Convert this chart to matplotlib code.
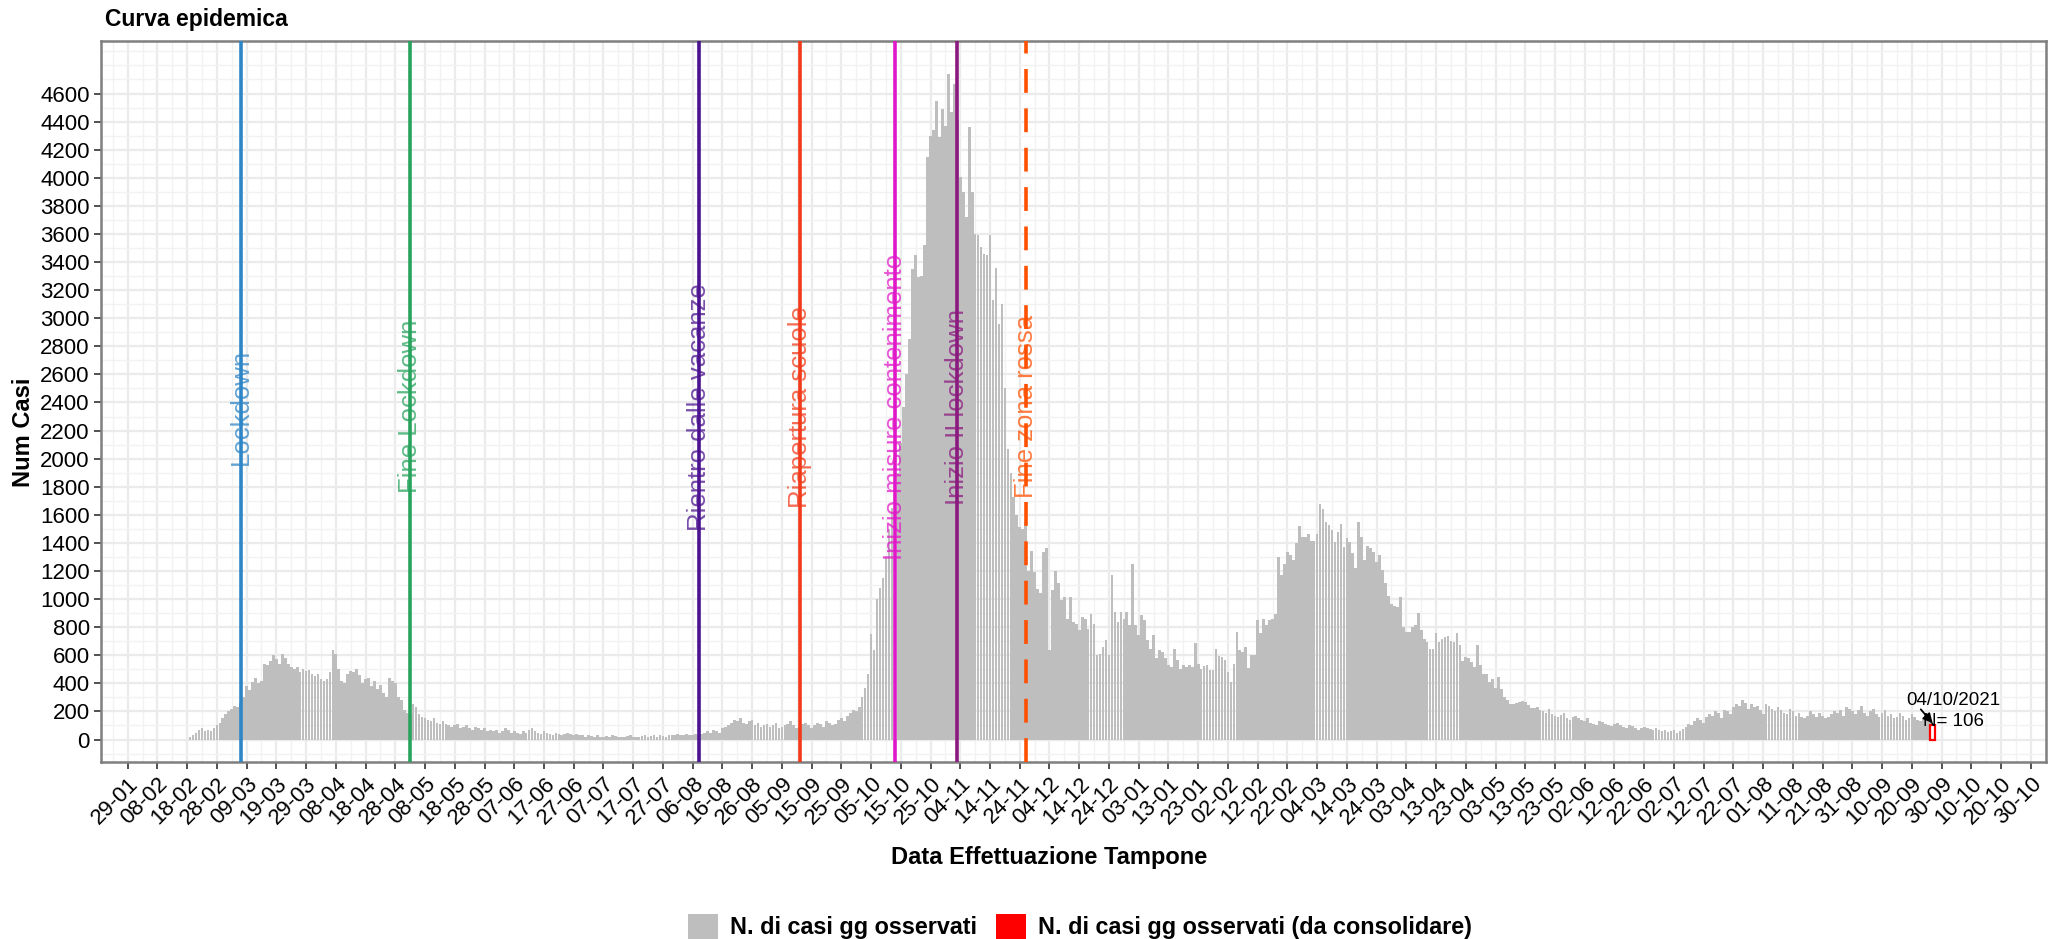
import matplotlib
matplotlib.use("Agg")
import matplotlib.pyplot as plt
from matplotlib.patches import Patch
import numpy as np
import pandas as pd

plt.rcParams['font.family'] = ['Liberation Sans', 'DejaVu Sans']

# casi giornalieri osservati, primo giorno 19-02-2020
inizio_serie = "2020-02-19"
casi_2020_02 = [20, 30, 50, 70, 80, 60, 70, 60, 80, 100]
casi_2020_03 = [120, 150, 180, 200, 220, 240, 230, 260, 300, 380, 350, 410, 440, 400, 420, 540,
                530, 560, 600, 570, 540, 610, 580, 540, 520, 500, 520, 480, 500, 490, 495]
casi_2020_04 = [470, 455, 470, 430, 420, 430, 480, 640, 610, 500, 420, 400, 470, 490, 480, 500,
                460, 400, 430, 440, 380, 420, 360, 390, 330, 300, 440, 420, 400, 300]
casi_2020_05 = [280, 210, 190, 180, 250, 230, 180, 160, 150, 140, 130, 150, 120, 110, 130, 110,
                100, 90, 100, 110, 80, 90, 100, 80, 70, 90, 80, 70, 80, 60, 70]
casi_2020_06 = [60, 70, 50, 60, 80, 70, 50, 60, 50, 40, 60, 50, 70, 80, 60, 50, 40, 60, 50, 40,
                30, 50, 40, 30, 40, 50, 40, 30, 40, 30]
casi_2020_07 = [30, 20, 30, 25, 20, 30, 20, 15, 25, 20, 30, 25, 20, 15, 20, 25, 30, 20, 15, 20,
                25, 30, 20, 25, 30, 20, 30, 25, 20, 30, 35]
casi_2020_08 = [30, 40, 35, 30, 40, 30, 35, 40, 30, 40, 50, 60, 50, 70, 60, 50, 80, 90, 100, 120,
                140, 130, 150, 120, 110, 130, 140, 100, 120, 90, 100]
casi_2020_09 = [110, 90, 100, 120, 80, 90, 100, 110, 130, 100, 80, 90, 110, 120, 100, 80, 100, 120,
                110, 90, 130, 120, 100, 110, 140, 150, 130, 170, 190, 210]
casi_2020_10 = [200, 230, 300, 370, 470, 750, 640, 1000, 1080, 1150, 1300, 1500, 1650, 1800, 1900,
                2110, 2370, 2600, 2850, 3350, 3450, 3290, 3300, 3520, 4150, 4300, 4340, 4550, 4290,
                4490, 4370]
casi_2020_11 = [4740, 4470, 4670, 4410, 4005, 3898, 3720, 4360, 3898, 3600, 3590, 3510, 3460, 3450,
                3590, 3127, 3360, 2960, 3100, 2500, 2070, 1900, 1730, 1600, 1510, 1500, 1550, 1200,
                1340, 1190]
casi_2020_12 = [1075, 1040, 1336, 1362, 636, 1063, 1200, 1112, 992, 1017, 861, 1015, 837, 825, 778,
                873, 861, 790, 892, 825, 600, 612, 660, 712, 600, 1170, 909, 837, 909, 861, 909]
casi_2021_01 = [814, 1250, 814, 743, 885, 854, 712, 648, 743, 577, 636, 624, 577, 529, 517, 648,
                565, 505, 529, 517, 529, 517, 688, 540, 505, 522, 530, 498, 493, 648, 593]
casi_2021_02 = [588, 569, 482, 410, 541, 766, 640, 624, 660, 512, 600, 600, 854, 755, 861, 814,
                850, 861, 897, 1300, 1170, 1250, 1336, 1313, 1280, 1400, 1519, 1443]
casi_2021_03 = [1443, 1467, 1415, 1415, 1467, 1680, 1645, 1550, 1527, 1490, 1408, 1480, 1538, 1374,
                1438, 1409, 1328, 1222, 1550, 1443, 1280, 1375, 1363, 1333, 1265, 1316, 1210, 1117,
                1025, 966, 950]
casi_2021_04 = [944, 1015, 802, 766, 766, 802, 814, 901, 778, 719, 695, 648, 646, 755, 695, 719,
                730, 735, 700, 695, 759, 671, 560, 589, 584, 553, 517, 671, 529, 470]
casi_2021_05 = [465, 410, 434, 370, 446, 363, 304, 285, 256, 251, 261, 268, 275, 268, 245, 228,
                221, 230, 210, 200, 190, 215, 180, 170, 160, 175, 190, 150, 140, 160, 170]
casi_2021_06 = [150, 140, 130, 150, 120, 110, 100, 130, 125, 110, 100, 95, 110, 120, 100, 90, 85,
                100, 95, 80, 70, 85, 90, 80, 75, 70, 80, 65, 60, 70]
casi_2021_07 = [55, 60, 70, 50, 60, 75, 90, 110, 100, 130, 150, 140, 120, 160, 180, 170, 200, 190,
                150, 210, 200, 180, 230, 250, 240, 280, 260, 220, 250, 230, 240]
casi_2021_08 = [210, 180, 250, 240, 220, 200, 230, 210, 190, 180, 220, 200, 170, 190, 160, 150, 170,
                200, 180, 160, 190, 170, 150, 160, 180, 200, 190, 210, 170, 230, 220]
casi_2021_09 = [200, 180, 210, 240, 190, 170, 200, 220, 180, 160, 190, 210, 170, 180, 150, 160, 190,
                170, 140, 150, 180, 160, 140, 130, 150, 160, 140]

# ultimo giorno (da consolidare)
data_da_consolidare = "2021-09-27"
casi_da_consolidare = 106
etichetta_ultimo = "04/10/2021\nN= 106"

# eventi
eventi = ["Lockdown", "Fine Lockdown", "Rientro dalle vacanze", "Riapertura scuole",
          "Inizio misure contenimento", "Inizio II lockdown", "Fine zona rossa"]
date_eventi = ["2020-03-07", "2020-05-03", "2020-08-08", "2020-09-11",
               "2020-10-13", "2020-11-03", "2020-11-26"]
colori_eventi = ["#2F86C6", "#27A35D", "#4C1390", "#F23A1A", "#E018C8", "#8B1A7F", "#FF5000"]
stili_eventi = ["-", "-", "-", "-", "-", "-", (0, (6.6, 4.3))]

casi = (casi_2020_02 + casi_2020_03 + casi_2020_04 + casi_2020_05 + casi_2020_06 + casi_2020_07 +
        casi_2020_08 + casi_2020_09 + casi_2020_10 + casi_2020_11 + casi_2020_12 + casi_2021_01 +
        casi_2021_02 + casi_2021_03 + casi_2021_04 + casi_2021_05 + casi_2021_06 + casi_2021_07 +
        casi_2021_08 + casi_2021_09)
date = pd.date_range(inizio_serie, periods=len(casi), freq="D")

fig = plt.figure(figsize=(20.51, 9.39), dpi=100)
ax = fig.add_axes([0.0492, 0.1885, 0.9482, 0.768])

ax.bar(date, casi, width=0.9, color="#BEBEBE", zorder=2)
ax.bar(pd.Timestamp(data_da_consolidare), casi_da_consolidare, width=1.6,
       facecolor="white", edgecolor="#FF0000", linewidth=1.6, zorder=2)

for nome, d, col, st in zip(eventi, date_eventi, colori_eventi, stili_eventi):
    ax.axvline(pd.Timestamp(d), color=col, linestyle=st, linewidth=2.6, zorder=3)
for nome, d, col in zip(eventi, date_eventi, colori_eventi):
    ax.text(pd.Timestamp(d), 2370, nome, rotation=90, ha="center", va="center",
            color=col, alpha=0.75, fontsize=18.5, zorder=4)

# annotazione ultimo giorno
ax.text(pd.Timestamp("2021-10-04"), 205, etichetta_ultimo, ha="center", va="center",
        fontsize=13.5, linespacing=1.3, zorder=5)
ax.annotate("", xy=(pd.Timestamp(data_da_consolidare), casi_da_consolidare + 10),
            xytext=(pd.Timestamp("2021-09-23"), 215),
            arrowprops=dict(arrowstyle="-|>", color="black", lw=1.3, mutation_scale=14,
                            shrinkA=0, shrinkB=0), zorder=5)

# assi
xticks = pd.date_range("2020-01-29", "2021-10-30", freq="10D")
xminor = pd.date_range("2020-01-24", "2021-11-04", freq="5D")
ax.set_xticks(xticks)
ax.set_xticklabels([t.strftime("%d-%m") for t in xticks], rotation=45, ha="right",
                   rotation_mode="anchor", fontsize=16)
ax.set_xticks(xminor, minor=True)
ax.set_yticks(np.arange(0, 4601, 200))
ax.set_yticklabels([str(v) for v in range(0, 4601, 200)], fontsize=16)
ax.set_yticks(np.arange(-100, 4901, 100), minor=True)
ax.set_xlim(pd.Timestamp("2020-01-20"), pd.Timestamp("2021-11-04"))
ax.set_ylim(-160, 4975)

ax.set_axisbelow(True)
ax.grid(which="major", color="#EBEBEB", linewidth=1.6)
ax.grid(which="minor", color="#F2F2F2", linewidth=1.0)
ax.tick_params(which="major", length=5, width=1.2, color="#333333", pad=3, labelcolor="black")
ax.tick_params(which="minor", length=0)
for s in ax.spines.values():
    s.set_color("#7F7F7F")
    s.set_linewidth(1.8)

fig.text(0.051, 0.979, "Curva epidemica", fontsize=16.5, fontweight="bold", ha="left", va="center")
fig.text(0.0115, 0.54, "Num Casi", fontsize=17, fontweight="bold", rotation=90,
         ha="center", va="center")
fig.text(0.5115, 0.0866, "Data Effettuazione Tampone", fontsize=17, fontweight="bold",
         ha="center", va="center")

handles = [Patch(facecolor="#BEBEBE", edgecolor="none"), Patch(facecolor="#FF0000", edgecolor="none")]
fig.legend(handles, ["N. di casi gg osservati", "N. di casi gg osservati (da consolidare)"],
           loc="center", bbox_to_anchor=(0.5265, 0.0135), ncol=2, frameon=False,
           prop={"weight": "bold", "size": 16.8}, handlelength=1.3, handleheight=1.3,
           handletextpad=0.5, columnspacing=0.8)

fig.savefig("out.png", dpi=100)
